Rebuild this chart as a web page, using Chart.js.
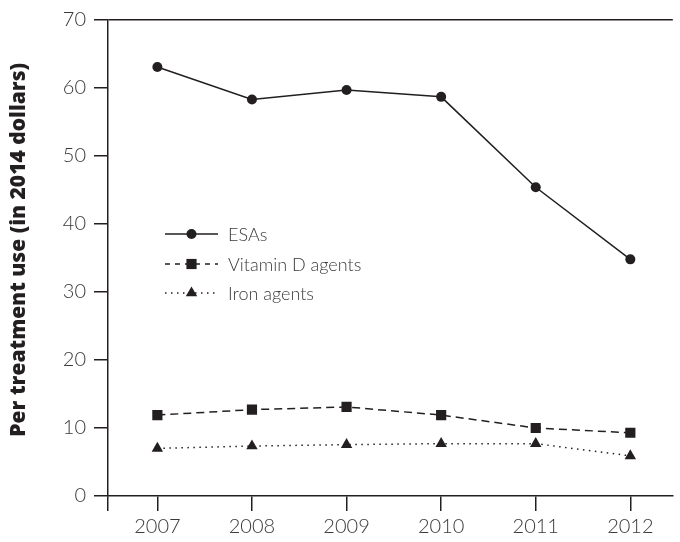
<!DOCTYPE html>
<html><head><meta charset="utf-8">
<script src="https://cdn.jsdelivr.net/npm/chart.js@4.4.1/dist/chart.umd.min.js"></script>
<style>html,body{margin:0;padding:0;background:#fff}#wrap{width:680px;height:542px}</style>
</head><body><div id="wrap"><canvas id="c" width="680" height="542"></canvas></div>
<script>
const years = [2007, 2008, 2009, 2010, 2011, 2012];
const esas = [63.1, 58.3, 59.7, 58.7, 45.4, 34.8];
const vitaminD = [11.9, 12.7, 13.1, 11.9, 10.0, 9.3];
const iron = [7.0, 7.35, 7.55, 7.7, 7.7, 5.9];
const seriesNames = ['ESAs', 'Vitamin D agents', 'Iron agents'];
const yTicks = [0, 10, 20, 30, 40, 50, 60, 70];
const yTitle = 'Per treatment use (in 2014 dollars)';

const INK = '#231f20';
const TXT = '#3a3a3a';
const X_MIN = 2006.478, X_MAX = 2012.449;

function pts(vals) { return years.map((y, i) => ({x: y, y: vals[i]})); }

const legendDash = [[], [5, 5], [1.5, 4.5]];
const legendPlugin = {
  id: 'lineLegend',
  afterDatasetsDraw(chart) {
    const ctx = chart.ctx;
    const x0 = 165, x1 = 218, tx = 228;
    const rows = [234, 264, 293];
    chart.data.datasets.forEach((ds, i) => {
      const y = rows[i];
      ctx.save();
      ctx.strokeStyle = ds.borderColor;
      ctx.lineWidth = ds.borderWidth;
      ctx.setLineDash(legendDash[i]);
      ctx.beginPath(); ctx.moveTo(x0, y); ctx.lineTo(x1, y); ctx.stroke();
      ctx.setLineDash([]);
      ctx.fillStyle = ds.pointBackgroundColor;
      Chart.helpers.drawPoint(ctx, {pointStyle: ds.pointStyle, radius: ds.pointRadius, rotation: 0, borderWidth: 0}, (x0 + x1) / 2, y);
      ctx.fillStyle = TXT;
      ctx.font = '300 18px Lato';
      ctx.textBaseline = 'middle';
      ctx.textAlign = 'left';
      ctx.fillText(seriesNames[i], tx, y + 1);
      ctx.restore();
    });
  }
};

new Chart(document.getElementById('c'), {
  type: 'line',
  data: {
    datasets: [
      {label: seriesNames[0], data: pts(esas), borderColor: INK, borderWidth: 1.5, pointStyle: 'circle', pointRadius: 5, pointBackgroundColor: INK, pointBorderWidth: 0, tension: 0},
      {label: seriesNames[1], data: pts(vitaminD), borderColor: INK, borderWidth: 1.5, borderDash: [8, 5], pointStyle: 'rect', pointRadius: 7.2, pointBackgroundColor: INK, pointBorderWidth: 0, tension: 0},
      {label: seriesNames[2], data: pts(iron), borderColor: INK, borderWidth: 1.5, borderDash: [1.5, 4.5], pointStyle: 'triangle', pointRadius: 6.6, pointBackgroundColor: INK, pointBorderWidth: 0, tension: 0}
    ]
  },
  options: {
    responsive: false,
    animation: false,
    devicePixelRatio: 1,
    layout: {padding: {top: 20, right: 0, left: 0, bottom: 0}},
    plugins: {legend: {display: false}, tooltip: {enabled: false}},
    scales: {
      x: {
        type: 'linear', min: X_MIN, max: X_MAX,
        afterBuildTicks(scale) {
          scale.ticks = [{value: X_MIN}].concat(years.map(v => ({value: v})));
        },
        afterFit(scale) { scale.height = 46; },
        border: {display: true, color: INK, width: 1.5},
        grid: {drawOnChartArea: false, drawTicks: true, tickLength: 15, color: INK, tickColor: INK, lineWidth: 1.5},
        ticks: {
          padding: 4, color: TXT, font: {family: 'Lato', size: 20, weight: '300'},
          maxRotation: 0, autoSkip: false,
          callback: (v) => years.includes(v) ? String(v) : ''
        }
      },
      y: {
        min: 0, max: 70,
        afterBuildTicks(scale) { scale.ticks = yTicks.map(v => ({value: v})); },
        afterFit(scale) { scale.width = 108; },
        border: {display: true, color: INK, width: 1.5},
        grid: {
          drawOnChartArea: true, drawTicks: true, tickLength: 14, lineWidth: 1.5,
          color: (c) => (c.tick && c.tick.value === 70) ? INK : 'rgba(0,0,0,0)',
          tickColor: INK
        },
        ticks: {padding: 8, color: TXT, font: {family: 'Lato', size: 20, weight: '300'}, callback: (v) => String(v)},
        title: {display: true, text: '   ' + yTitle, color: INK, font: {family: 'Open Sans', size: 21, weight: '800'}, padding: {top: 6, bottom: 0}}
      }
    }
  },
  plugins: [legendPlugin]
});
</script>
</body></html>
